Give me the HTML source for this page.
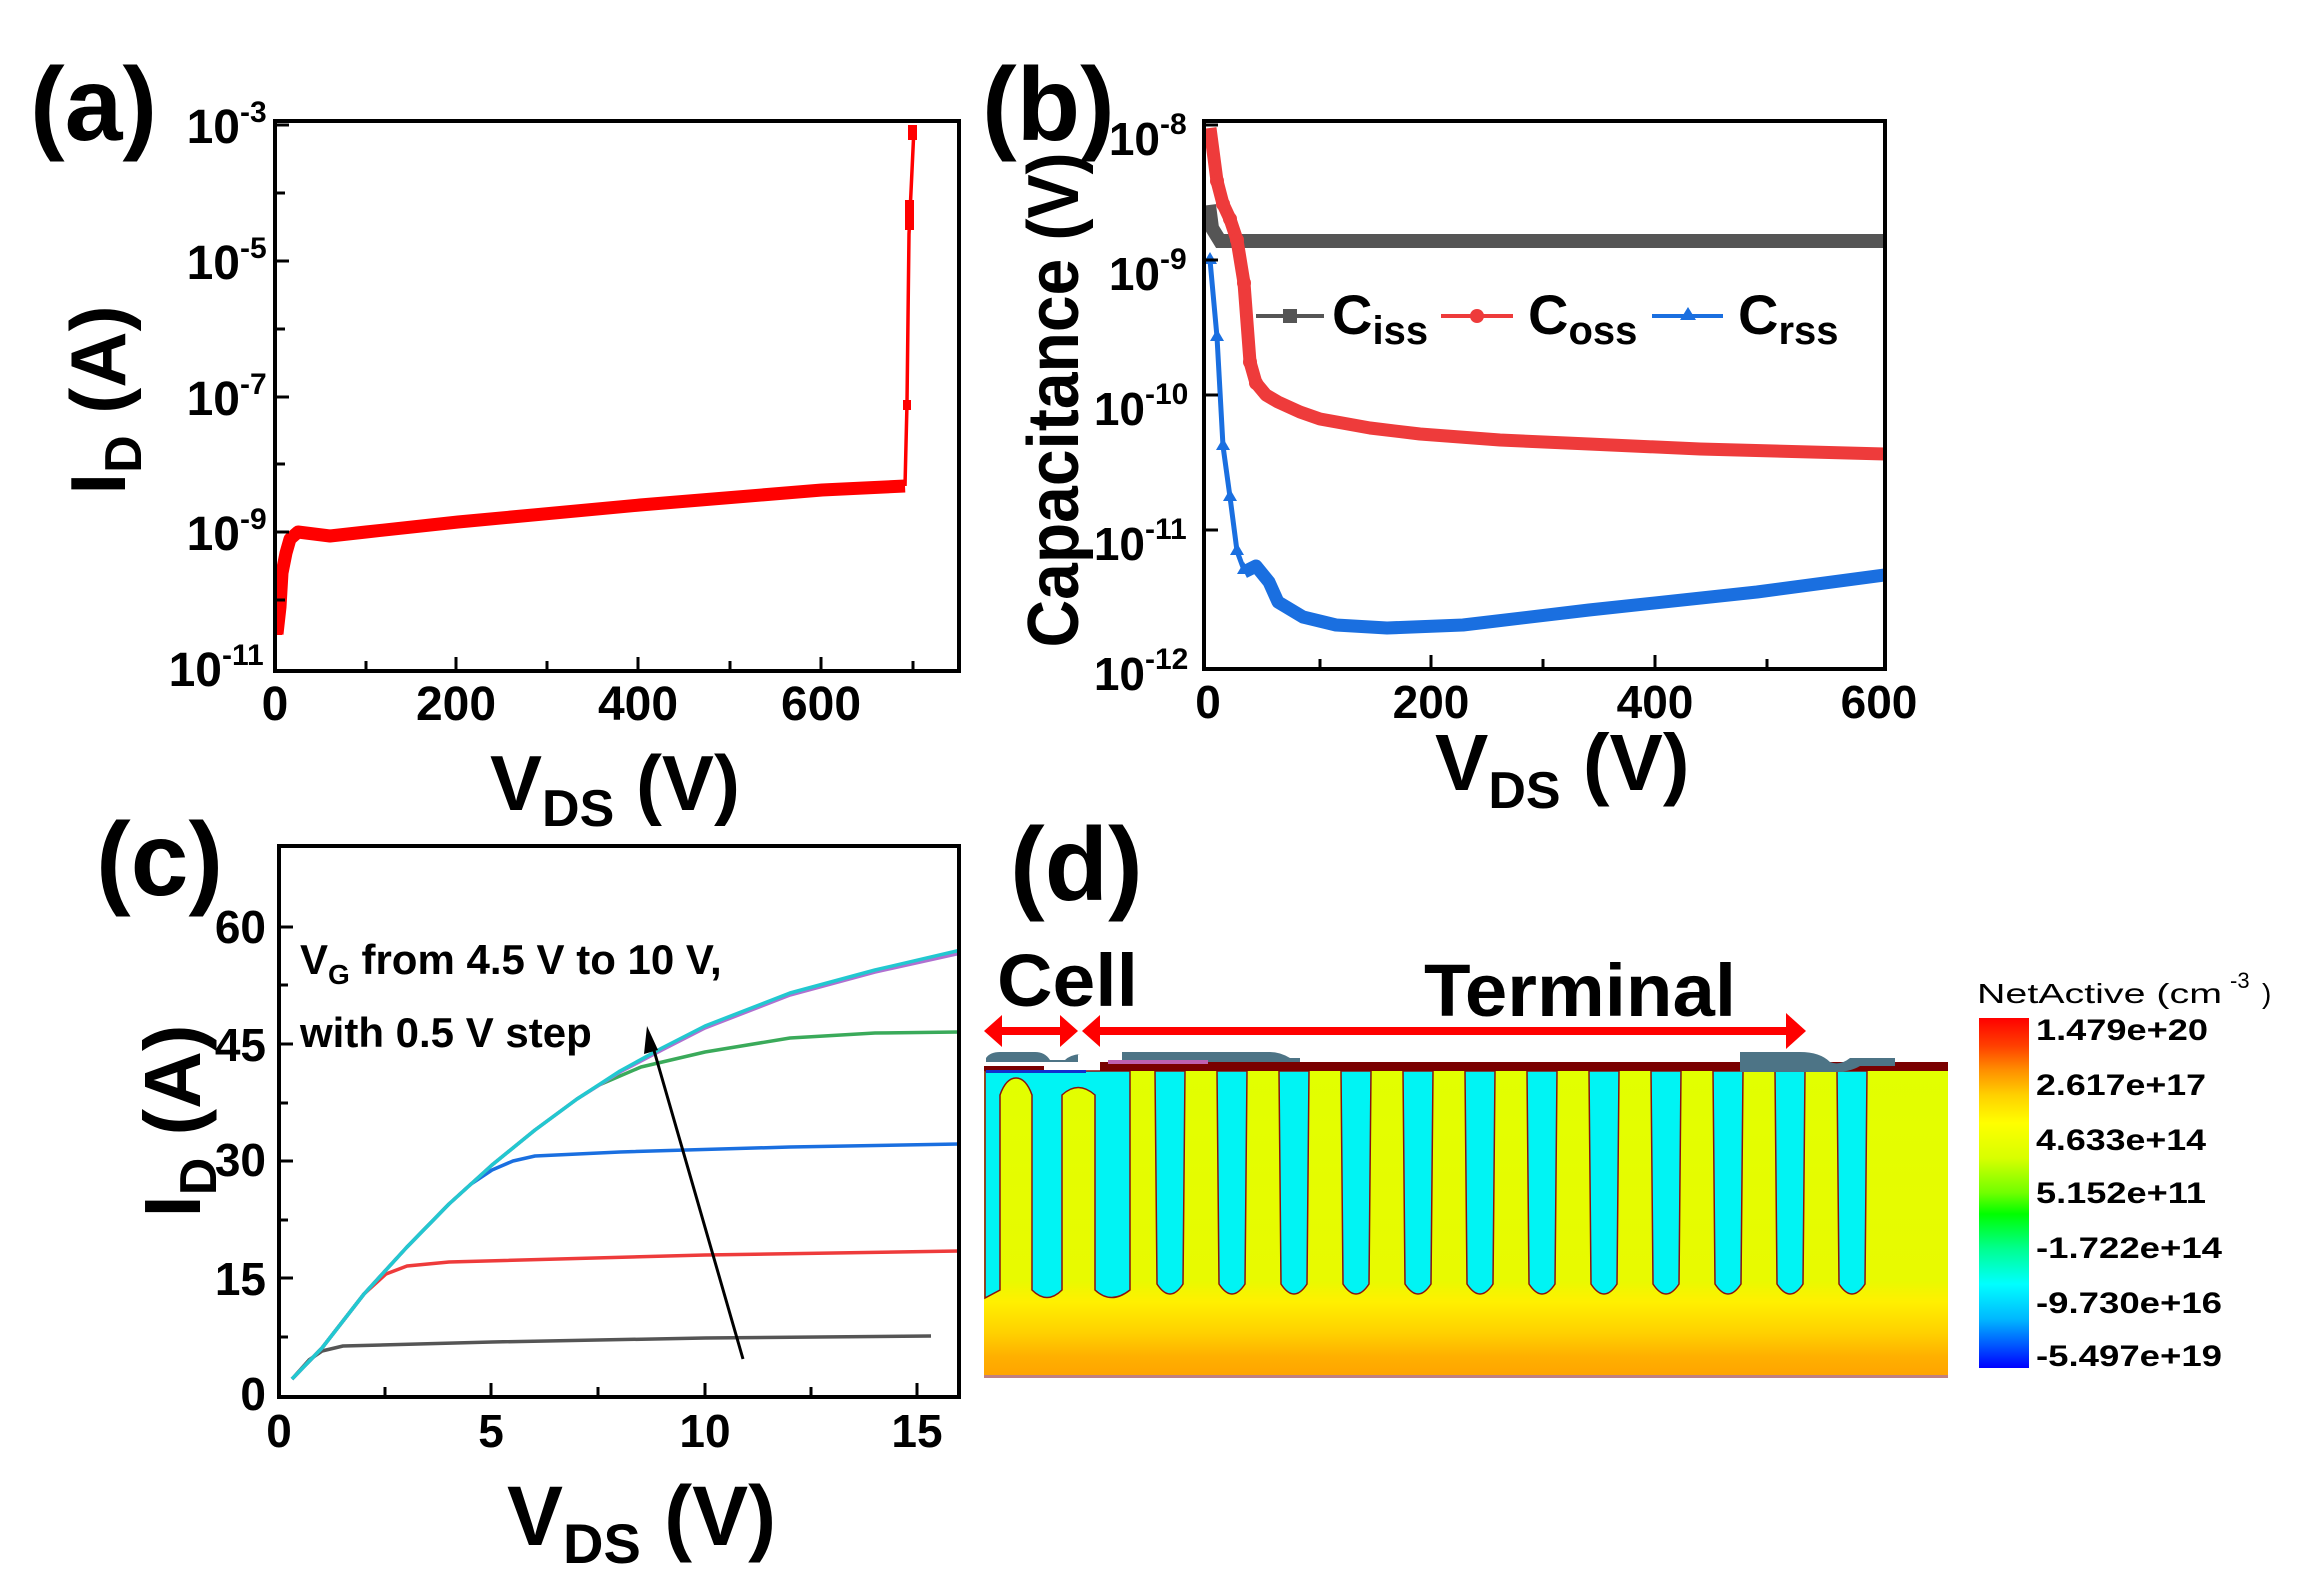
<!DOCTYPE html>
<html><head><meta charset="utf-8"><style>
html,body{margin:0;padding:0;background:#fff;}
svg{display:block;}
text{font-family:"Liberation Sans",sans-serif;font-weight:bold;fill:#000;}
</style></head><body>
<svg width="2319" height="1590" viewBox="0 0 2319 1590" xmlns="http://www.w3.org/2000/svg">
<defs>
<clipPath id="ca"><rect x="275" y="121" width="684" height="550"/></clipPath>
<clipPath id="cb"><rect x="1204" y="121" width="681" height="548"/></clipPath>
<clipPath id="cc"><rect x="279" y="846" width="680" height="551"/></clipPath>
<linearGradient id="sub" x1="0" y1="0" x2="0" y2="1">
<stop offset="0" stop-color="#e2ff00"/><stop offset="0.68" stop-color="#e8fa00"/>
<stop offset="0.75" stop-color="#fff000"/><stop offset="0.85" stop-color="#ffd200"/>
<stop offset="0.93" stop-color="#ffb000"/><stop offset="1" stop-color="#ffa200"/></linearGradient>
<linearGradient id="cbar" x1="0" y1="0" x2="0" y2="1">
<stop offset="0" stop-color="#ff0000"/><stop offset="0.08" stop-color="#ff4000"/>
<stop offset="0.15" stop-color="#ff9000"/><stop offset="0.22" stop-color="#ffd000"/>
<stop offset="0.3" stop-color="#ffff00"/><stop offset="0.4" stop-color="#d8ff00"/>
<stop offset="0.5" stop-color="#70ff00"/><stop offset="0.56" stop-color="#00ff00"/>
<stop offset="0.66" stop-color="#00ff90"/><stop offset="0.76" stop-color="#00ffff"/>
<stop offset="0.86" stop-color="#00b8ff"/><stop offset="0.94" stop-color="#0050ff"/>
<stop offset="1" stop-color="#0000ff"/></linearGradient>
</defs>

<!-- ===== Panel (a) ===== -->
<text x="30" y="140" font-size="104">(a)</text>
<g clip-path="url(#ca)">
<polyline fill="none" stroke="#ff0000" stroke-width="13" stroke-linejoin="round" points="277,634 280,607 282,573 286,553 290,539 298,532 330,536 366,532 458,522 640,505 822,490 905,486"/>
<polyline fill="none" stroke="#ff0000" stroke-width="3.5" points="905,486 907,403 909,234 914,128"/>
<rect x="903" y="400" width="8" height="10" fill="#f00"/><rect x="905" y="200" width="9" height="30" fill="#f00"/><rect x="908" y="125" width="9" height="15" fill="#f00"/>
<rect x="273" y="595" width="9" height="40" fill="#f00"/>
</g>
<rect x="275" y="121" width="684" height="550" fill="none" stroke="#000" stroke-width="4"/>
<g stroke="#000" stroke-width="3">
<line x1="277" y1="125" x2="289" y2="125"/><line x1="277" y1="193" x2="285" y2="193"/><line x1="277" y1="261" x2="289" y2="261"/><line x1="277" y1="329" x2="285" y2="329"/><line x1="277" y1="397" x2="289" y2="397"/><line x1="277" y1="464" x2="285" y2="464"/><line x1="277" y1="532" x2="289" y2="532"/><line x1="277" y1="600" x2="285" y2="600"/>
<line x1="366" y1="669" x2="366" y2="661"/><line x1="456" y1="669" x2="456" y2="657"/><line x1="547" y1="669" x2="547" y2="661"/><line x1="638" y1="669" x2="638" y2="657"/><line x1="730" y1="669" x2="730" y2="661"/><line x1="821" y1="669" x2="821" y2="657"/><line x1="913" y1="669" x2="913" y2="661"/>
</g>
<g font-size="48" text-anchor="end">
<text x="240" y="143">10</text><text x="240" y="279">10</text><text x="240" y="415">10</text><text x="240" y="550">10</text><text x="222" y="686">10</text>
</g>
<g font-size="30">
<text x="240" y="122">-3</text><text x="240" y="258">-5</text><text x="240" y="394">-7</text><text x="240" y="529">-9</text><text x="222" y="665">-11</text>
</g>
<g font-size="48" text-anchor="middle">
<text x="275" y="720">0</text><text x="456" y="720">200</text><text x="638" y="720">400</text><text x="821" y="720">600</text>
</g>
<text transform="translate(125,400) rotate(-90)" font-size="78" text-anchor="middle">I<tspan font-size="52" dy="16">D</tspan><tspan dy="-16"> (A)</tspan></text>
<text x="490" y="810" font-size="78">V<tspan font-size="52" dy="16">DS</tspan><tspan dy="-16"> (V)</tspan></text>

<!-- ===== Panel (b) ===== -->
<text x="982" y="140" font-size="104">(b)</text>
<g clip-path="url(#cb)">
<polyline fill="none" stroke="#555" stroke-width="14" points="1209,205 1212,228 1220,241 1885,241"/>
<polyline fill="none" stroke="#ee3b3b" stroke-width="13" stroke-linejoin="round" points="1210,128 1217,181 1223,204 1230,219 1237,240 1244,283 1250,362 1256,383 1266,395 1278,402 1300,412 1320,419 1370,428 1420,434 1500,440 1589,444 1700,449 1885,454"/>
<polyline fill="none" stroke="#1a6fe0" stroke-width="5" stroke-linejoin="round" points="1210,260 1217,337 1223,446 1230,497 1237,551 1244,570"/>
<polyline fill="none" stroke="#1a6fe0" stroke-width="13" stroke-linejoin="round" points="1244,572 1256,566 1269,582 1278,602 1303,617 1336,625 1387,628 1463,625 1589,610 1757,592 1885,575"/>
<g fill="#ee3b3b"><circle cx="1217" cy="181" r="7"/><circle cx="1223" cy="204" r="7"/><circle cx="1230" cy="219" r="7"/><circle cx="1237" cy="240" r="7"/><circle cx="1244" cy="283" r="7"/><circle cx="1250" cy="362" r="7"/><circle cx="1256" cy="383" r="7"/></g>
<g fill="#1a6fe0"><path d="M1210,252 l7,12 h-14z"/><path d="M1217,329 l7,12 h-14z"/><path d="M1223,438 l7,12 h-14z"/><path d="M1230,489 l7,12 h-14z"/><path d="M1237,543 l7,12 h-14z"/><path d="M1244,562 l7,12 h-14z"/></g>
</g>
<rect x="1204" y="121" width="681" height="548" fill="none" stroke="#000" stroke-width="4"/>
<g stroke="#000" stroke-width="3">
<line x1="1206" y1="125" x2="1218" y2="125"/><line x1="1206" y1="260" x2="1218" y2="260"/><line x1="1206" y1="395" x2="1218" y2="395"/><line x1="1206" y1="530" x2="1218" y2="530"/>
<line x1="1320" y1="667" x2="1320" y2="659"/><line x1="1431" y1="667" x2="1431" y2="655"/><line x1="1543" y1="667" x2="1543" y2="659"/><line x1="1655" y1="667" x2="1655" y2="655"/><line x1="1767" y1="667" x2="1767" y2="659"/>
</g>
<g font-size="46" text-anchor="end">
<text x="1160" y="155">10</text><text x="1160" y="290">10</text><text x="1145" y="425">10</text><text x="1145" y="560">10</text><text x="1145" y="690">10</text>
</g>
<g font-size="30">
<text x="1160" y="134">-8</text><text x="1160" y="269">-9</text><text x="1145" y="404">-10</text><text x="1145" y="539">-11</text><text x="1145" y="669">-12</text>
</g>
<g font-size="46" text-anchor="middle">
<text x="1208" y="718">0</text><text x="1431" y="718">200</text><text x="1655" y="718">400</text><text x="1879" y="718">600</text>
</g>
<!-- legend -->
<line x1="1256" y1="316" x2="1324" y2="316" stroke="#555" stroke-width="4"/><rect x="1283" y="309" width="14" height="14" fill="#555"/>
<text x="1332" y="334" font-size="56">C<tspan font-size="40" dy="10">iss</tspan></text>
<line x1="1441" y1="316" x2="1513" y2="316" stroke="#ee3b3b" stroke-width="4"/><circle cx="1477" cy="316" r="7" fill="#ee3b3b"/>
<text x="1528" y="334" font-size="56">C<tspan font-size="40" dy="10">oss</tspan></text>
<line x1="1652" y1="316" x2="1723" y2="316" stroke="#1a6fe0" stroke-width="4"/><path d="M1688,307 l8,13 h-16z" fill="#1a6fe0"/>
<text x="1738" y="334" font-size="56">C<tspan font-size="40" dy="10">rss</tspan></text>
<text transform="translate(1078,400) rotate(-90)" font-size="72" text-anchor="middle" textLength="495" lengthAdjust="spacingAndGlyphs">Capacitance (V)</text>
<text x="1435" y="790" font-size="80">V<tspan font-size="52" dy="18">DS</tspan><tspan dy="-18"> (V)</tspan></text>

<!-- ===== Panel (c) ===== -->
<text x="96" y="895" font-size="104">(c)</text>
<g clip-path="url(#cc)" fill="none" stroke-width="3.5" stroke-linejoin="round">
<polyline stroke="#555" points="292,1379 309,1360 322,1351 343,1346 492,1342 705,1338 931,1336"/>
<polyline stroke="#ee3b3b" points="292,1379 322,1348 364,1294 386,1274 407,1266 449,1262 705,1255 961,1251"/>
<polyline stroke="#1a6fe0" points="292,1379 322,1348 364,1294 407,1247 449,1204 471,1184 492,1170 513,1161 535,1156 620,1152 790,1147 961,1144"/>
<polyline stroke="#3aaa5a" points="292,1379 322,1348 364,1294 407,1247 449,1204 492,1165 535,1130 577,1099 599,1085 641,1067 705,1052 790,1038 875,1033 961,1032"/>
<polyline stroke="#b070d0" points="292,1379 322,1348 364,1294 407,1247 449,1204 492,1165 535,1130 577,1099 620,1072 662,1050 705,1028 790,995 875,972 961,953"/>
<polyline stroke="#22c8d0" points="292,1379 322,1348 364,1294 407,1247 449,1204 492,1165 535,1130 577,1099 620,1071 662,1048 705,1026 790,993 875,970 961,950"/>
</g>
<rect x="279" y="846" width="680" height="551" fill="none" stroke="#000" stroke-width="4"/>
<g stroke="#000" stroke-width="3">
<line x1="281" y1="927" x2="293" y2="927"/><line x1="281" y1="985" x2="288" y2="985"/><line x1="281" y1="1044" x2="293" y2="1044"/><line x1="281" y1="1103" x2="288" y2="1103"/><line x1="281" y1="1161" x2="293" y2="1161"/><line x1="281" y1="1220" x2="288" y2="1220"/><line x1="281" y1="1278" x2="293" y2="1278"/><line x1="281" y1="1337" x2="288" y2="1337"/>
<line x1="385" y1="1395" x2="385" y2="1387"/><line x1="491" y1="1395" x2="491" y2="1383"/><line x1="598" y1="1395" x2="598" y2="1387"/><line x1="705" y1="1395" x2="705" y2="1383"/><line x1="811" y1="1395" x2="811" y2="1387"/><line x1="917" y1="1395" x2="917" y2="1383"/>
</g>
<g font-size="46" text-anchor="end">
<text x="266" y="943">60</text><text x="266" y="1061">45</text><text x="266" y="1176">30</text><text x="266" y="1295">15</text><text x="266" y="1410">0</text>
</g>
<g font-size="46" text-anchor="middle">
<text x="279" y="1447">0</text><text x="491" y="1447">5</text><text x="705" y="1447">10</text><text x="917" y="1447">15</text>
</g>
<text x="300" y="974" font-size="42">V<tspan font-size="28" dy="10">G</tspan><tspan dy="-10"> from 4.5 V to 10 V,</tspan></text>
<text x="300" y="1047" font-size="42">with 0.5 V step</text>
<line x1="743" y1="1359" x2="651" y2="1040" stroke="#000" stroke-width="3"/>
<path d="M647,1026 l11,24 l-14,4 z" fill="#000"/>
<text transform="translate(200,1121) rotate(-90)" font-size="80" text-anchor="middle">I<tspan font-size="52" dy="16">D</tspan><tspan dy="-16"> (A)</tspan></text>
<text x="507" y="1545" font-size="84">V<tspan font-size="56" dy="18">DS</tspan><tspan dy="-18"> (V)</tspan></text>

<!-- ===== Panel (d) ===== -->
<text x="1010" y="900" font-size="104">(d)</text>
<text x="997" y="1006" font-size="74" textLength="141" lengthAdjust="spacingAndGlyphs">Cell</text>
<text x="1424" y="1016" font-size="74" textLength="312" lengthAdjust="spacingAndGlyphs">Terminal</text>
<rect x="984" y="1071" width="964" height="307" fill="url(#sub)"/>
<rect x="984" y="1375" width="964" height="3" fill="#c08080"/>
<path d="M985,1071 H1130 V1290 Q1111,1305 1095,1290 V1095 Q1078,1080 1062,1095 V1290 Q1047,1305 1032,1290 V1095 Q1026,1078 1016,1078 Q1006,1078 1000,1095 V1290 L985,1298 Z" fill="#00f4f4" stroke="#8a1010" stroke-width="1.5"/>
<g fill="#00f4f4" stroke="#8a1010" stroke-width="1.5">
<path d="M1155,1071 L1157,1284 Q1170,1304 1183,1284 L1185,1071 Z"/>
<path d="M1217,1071 L1219,1284 Q1232,1304 1245,1284 L1247,1071 Z"/>
<path d="M1279,1071 L1281,1284 Q1294,1304 1307,1284 L1309,1071 Z"/>
<path d="M1341,1071 L1343,1284 Q1356,1304 1369,1284 L1371,1071 Z"/>
<path d="M1403,1071 L1405,1284 Q1418,1304 1431,1284 L1433,1071 Z"/>
<path d="M1465,1071 L1467,1284 Q1480,1304 1493,1284 L1495,1071 Z"/>
<path d="M1527,1071 L1529,1284 Q1542,1304 1555,1284 L1557,1071 Z"/>
<path d="M1589,1071 L1591,1284 Q1604,1304 1617,1284 L1619,1071 Z"/>
<path d="M1651,1071 L1653,1284 Q1666,1304 1679,1284 L1681,1071 Z"/>
<path d="M1713,1071 L1715,1284 Q1728,1304 1741,1284 L1743,1071 Z"/>
<path d="M1775,1071 L1777,1284 Q1790,1304 1803,1284 L1805,1071 Z"/>
<path d="M1837,1071 L1839,1284 Q1852,1304 1865,1284 L1867,1071 Z"/>
</g>
<rect x="1100" y="1062" width="848" height="9" fill="#7a0000"/>
<rect x="984" y="1066" width="60" height="5" fill="#7a0000"/>
<rect x="986" y="1070" width="100" height="3" fill="#1030d0"/>
<path d="M986,1066 V1058 Q990,1052 1000,1052 H1035 Q1045,1052 1050,1060 H1065 Q1070,1055 1080,1054 H1078 V1062 H986 Z" fill="#4d7486"/>
<path d="M1122,1064 V1052 H1270 Q1280,1052 1290,1058 H1300 V1062 H1122 Z" fill="#4d7486"/>
<rect x="1108" y="1060" width="100" height="4" fill="#c060b0"/>
<path d="M1740,1062 V1052 H1800 Q1820,1052 1830,1062 Q1840,1066 1850,1058 H1895 V1066 H1860 Q1850,1072 1835,1072 H1740 Z" fill="#4d7486"/>
<g fill="#ff0000">
<rect x="998" y="1027" width="66" height="8"/>
<path d="M984,1031 l18,-16 v32 z"/><path d="M1078,1031 l-18,-16 v32 z"/>
<rect x="1098" y="1027" width="690" height="8"/>
<path d="M1082,1031 l18,-16 v32 z"/><path d="M1806,1031 l-20,-18 v36 z"/>
</g>
<rect x="1979" y="1018" width="50" height="350" fill="url(#cbar)"/>
<text x="1977" y="1003" font-size="28" textLength="245" lengthAdjust="spacingAndGlyphs" style="font-weight:normal">NetActive (cm</text>
<text x="2230" y="988" font-size="22" style="font-weight:normal">-3</text>
<text x="2262" y="1003" font-size="28" style="font-weight:normal">)</text>
<g font-size="30">
<text x="2036" y="1040" textLength="172" lengthAdjust="spacingAndGlyphs">1.479e+20</text>
<text x="2036" y="1095" textLength="170" lengthAdjust="spacingAndGlyphs">2.617e+17</text>
<text x="2036" y="1150" textLength="170" lengthAdjust="spacingAndGlyphs">4.633e+14</text>
<text x="2036" y="1203" textLength="170" lengthAdjust="spacingAndGlyphs">5.152e+11</text>
<text x="2036" y="1258" textLength="186" lengthAdjust="spacingAndGlyphs">-1.722e+14</text>
<text x="2036" y="1313" textLength="186" lengthAdjust="spacingAndGlyphs">-9.730e+16</text>
<text x="2036" y="1366" textLength="186" lengthAdjust="spacingAndGlyphs">-5.497e+19</text>
</g>
</svg>
</body></html>
